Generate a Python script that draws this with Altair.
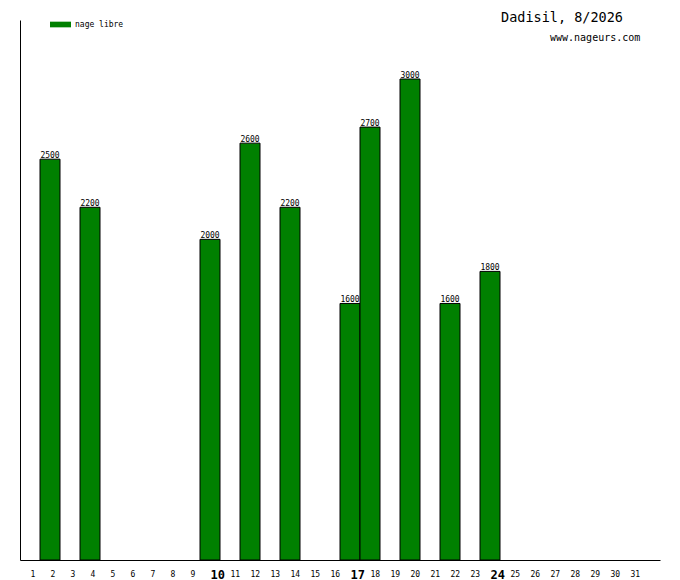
import altair as alt
import pandas as pd

# data
days = [2, 4, 10, 12, 14, 17, 18, 20, 22, 24]
values = [2500, 2200, 2000, 2600, 2200, 1600, 2700, 3000, 1600, 1800]
series = ["nage libre"] * len(days)
tick_days = list(range(1, 32))
bold_days = [10, 17, 24]
title_text = "Dadisil, 8/2026"
site_text = "www.nageurs.com"

FONT = "DejaVu Sans Mono"
GREEN = "#008000"

df = pd.DataFrame({"day": days, "value": values, "style": series})

bold_test = " || ".join(f"datum.value == {d}" for d in bold_days)

x_scale = alt.Scale(domain=[0.5, 32.5], nice=False, zero=False)
y_scale = alt.Scale(domain=[0, 3368], nice=False)

x_axis = alt.Axis(
    values=tick_days,
    title=None,
    grid=False,
    ticks=False,
    tickSize=0,
    domainColor="black",
    domainWidth=1,
    labelFont=FONT,
    labelColor="black",
    labelAlign="left",
    labelBaseline="middle",
    labelPadding=14,
    labelFontSize={"condition": {"test": bold_test, "value": 12}, "value": 8},
    labelFontWeight={"condition": {"test": bold_test, "value": "bold"}, "value": "normal"},
    labelOverlap=False,
    labelFlush=False,
    labelBound=False,
)
y_axis = alt.Axis(
    title=None,
    grid=False,
    ticks=False,
    labels=False,
    domainColor="black",
    domainWidth=1,
)

base = alt.Chart(df).transform_calculate(
    x0="datum.day - 0.5", x1="datum.day + 0.5"
)

bars = base.mark_bar(stroke="black", strokeWidth=1, opacity=1).encode(
    x=alt.X("x0:Q", scale=x_scale, axis=x_axis),
    x2="x1:Q",
    y=alt.Y("value:Q", scale=y_scale, axis=y_axis),
    y2=alt.datum(0),
    color=alt.Color(
        "style:N",
        scale=alt.Scale(range=[GREEN]),
        legend=alt.Legend(
            orient="none",
            legendX=30,
            legendY=-6,
            title=None,
            symbolType="M-1,-0.27H1V0.27H-1Z",
            symbolSize=441,
            symbolStrokeWidth=0,
            symbolOpacity=1,
            labelFont=FONT,
            labelFontSize=8,
            labelColor="black",
            labelOffset=4,
            padding=0,
        ),
    ),
)

labels = base.mark_text(
    font=FONT, fontSize=8, color="black", baseline="alphabetic", dy=-1
).encode(
    x=alt.X("day:Q", scale=x_scale, axis=x_axis),
    y=alt.Y("value:Q", scale=y_scale, axis=y_axis),
    text=alt.Text("value:Q", format="d"),
)

ann = pd.DataFrame({"t": [title_text], "s": [site_text]})
title = alt.Chart(ann).mark_text(
    font=FONT, fontSize=13.5, color="black", align="left", baseline="middle"
).encode(text="t:N", x=alt.value(481), y=alt.value(-2))
site = alt.Chart(ann).mark_text(
    font=FONT, fontSize=10, color="black", align="left", baseline="middle"
).encode(text="s:N", x=alt.value(530), y=alt.value(17.5))

chart = (
    alt.layer(bars, labels, title, site)
    .properties(
        width=640,
        height=540,
        autosize=alt.AutoSizeParams(type="none"),
        padding={"left": 12, "top": 12, "right": 8, "bottom": 20},
        background="white",
    )
    .configure_view(stroke=None)
)

chart.save("out.html", embed_options={"renderer": "svg", "actions": False})
